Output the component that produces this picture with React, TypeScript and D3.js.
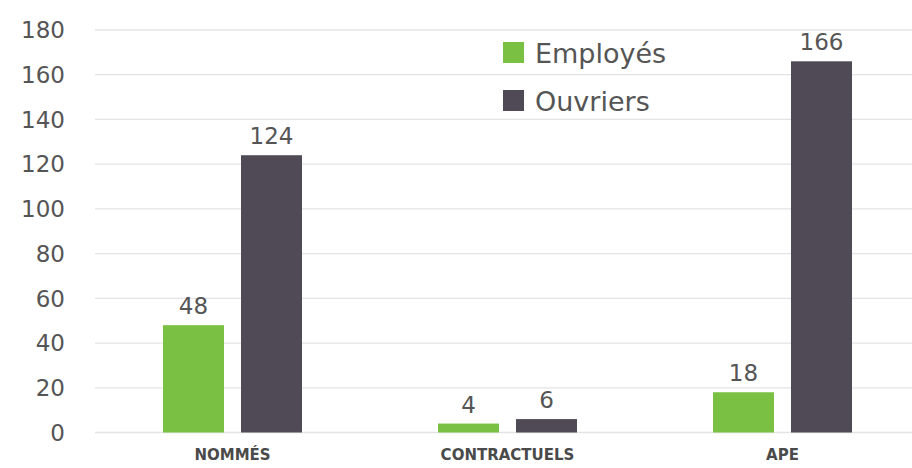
import React from "react";
import * as d3 from "d3";

const categories = ["NOMMÉS", "CONTRACTUELS", "APE"];
const seriesNames = ["Employés", "Ouvriers"];
const employes = [48, 4, 18];
const ouvriers = [124, 6, 166];
const yTicks = [0, 20, 40, 60, 80, 100, 120, 140, 160, 180];
const colors = ["#7AC143", "#504A56"];

const W = 912;
const H = 468;
const FONT = "'DejaVu Sans', sans-serif";

export default function App() {
  const y = d3.scaleLinear().domain([0, 180]).range([432.5, 30]);
  const x0 = d3
    .scaleBand<string>()
    .domain(categories)
    .range([95, 920])
    .paddingInner(0.4945)
    .paddingOuter(0.2473);
  const x1 = d3
    .scaleBand<string>()
    .domain(seriesNames)
    .range([0, x0.bandwidth()])
    .paddingInner(0.218)
    .paddingOuter(0);
  const values = [employes, ouvriers];

  return (
    <svg
      width={W}
      height={H}
      style={{ position: "absolute", left: 0, top: 0, background: "#fff" }}
    >
      {yTicks.map((t) => (
        <g key={t}>
          <line x1={95} x2={W} y1={y(t)} y2={y(t)} stroke="#e4e4e4" strokeWidth={1.3} />
          <text
            x={65}
            y={y(t)}
            dy="0.36em"
            textAnchor="end"
            fontFamily={FONT}
            fontSize={23}
            fill="#555"
          >
            {t}
          </text>
        </g>
      ))}
      {categories.map((c, ci) => (
        <g key={c} transform={`translate(${x0(c)},0)`}>
          {seriesNames.map((s, si) => {
            const v = values[si][ci];
            const bx = x1(s)!;
            return (
              <g key={s}>
                <rect
                  x={bx}
                  y={y(v)}
                  width={x1.bandwidth()}
                  height={y(0) - y(v)}
                  fill={colors[si]}
                />
                <text
                  x={bx + x1.bandwidth() / 2}
                  y={y(v) - 11}
                  textAnchor="middle"
                  fontFamily={FONT}
                  fontSize={23}
                  fill="#555"
                >
                  {v}
                </text>
              </g>
            );
          })}
          <text
            x={x0.bandwidth() / 2}
            y={460}
            textAnchor="middle"
            fontFamily={FONT}
            fontWeight="bold"
            fontSize={15}
            fill="#4a4a4a"
          >
            {c}
          </text>
        </g>
      ))}
      {seriesNames.map((s, si) => (
        <g key={s} transform={`translate(503,${42 + si * 48})`}>
          <rect x={0} y={0} width={21} height={21} fill={colors[si]} />
          <text
            x={32}
            y={21}
            fontFamily={FONT}
            fontSize={27}
            fill="#555"
          >
            {s}
          </text>
        </g>
      ))}
    </svg>
  );
}
